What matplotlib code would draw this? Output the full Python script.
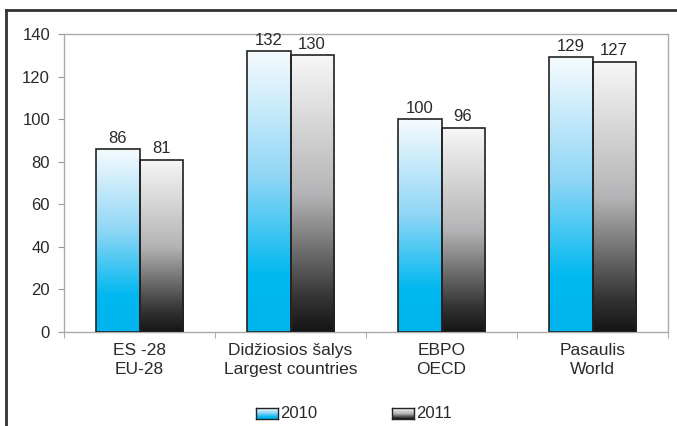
import numpy as np
import matplotlib.pyplot as plt
from matplotlib.colors import LinearSegmentedColormap
from matplotlib.patches import Rectangle
from matplotlib.lines import Line2D

plt.rcParams['font.family'] = ['Liberation Sans', 'DejaVu Sans']

categories = ['ES -28\nEU-28', 'Didžiosios šalys\nLargest countries', 'EBPO\nOECD', 'Pasaulis\nWorld']
series_names = ['2010', '2011']
values_2010 = [86, 132, 100, 129]
values_2011 = [81, 130, 96, 127]

cmap_2010 = LinearSegmentedColormap.from_list(
    'c2010', [(0.0, '#00b4ee'), (0.2, '#00b8f0'), (0.55, '#8fd6f6'), (1.0, '#f6fbfe')])
cmap_2011 = LinearSegmentedColormap.from_list(
    'c2011', [(0.0, '#151515'), (0.12, '#333333'), (0.5, '#b5b5b7'), (1.0, '#f7f7f7')])

txt = '#2a2a2a'

fig = plt.figure(figsize=(6.77, 4.26), dpi=100)
ax = fig.add_axes([64 / 677, 94 / 426, 604 / 677, 298 / 426])

grad = np.linspace(0, 1, 256).reshape(-1, 1)
x = np.arange(len(categories))
w = 0.285


def grad_bar(ax, x0, h, cmap):
    rect = Rectangle((x0, 0), w, h, facecolor='none', edgecolor='#222222', lw=1.2, zorder=3)
    ax.add_patch(rect)
    im = ax.imshow(grad, cmap=cmap, origin='lower', aspect='auto',
                   extent=(x0, x0 + w, 0, h), zorder=2)
    im.set_clip_path(rect)


for i in range(len(categories)):
    grad_bar(ax, x[i] - w, values_2010[i], cmap_2010)
    grad_bar(ax, x[i], values_2011[i], cmap_2011)
    ax.text(x[i] - w / 2, values_2010[i] + 1.5, str(values_2010[i]), ha='center', va='bottom', fontsize=12, color=txt)
    ax.text(x[i] + w / 2, values_2011[i] + 1.5, str(values_2011[i]), ha='center', va='bottom', fontsize=12, color=txt)

ax.set_xlim(-0.5, len(categories) - 0.5)
ax.set_ylim(0, 140)
ax.set_yticks(range(0, 141, 20))
ax.set_xticks(x)
ax.set_xticklabels(categories, fontsize=12.5, color=txt, linespacing=1.3)
ax.set_xticks(np.arange(-0.5, len(categories)), minor=True)
ax.tick_params(axis='x', which='major', length=0, pad=8)
ax.tick_params(axis='x', which='minor', length=4, color='#999999', direction='out')
ax.tick_params(axis='y', length=4, color='#999999', labelsize=12, labelcolor=txt, pad=6)
for s in ax.spines.values():
    s.set_color('#aaaaaa')
    s.set_linewidth(1)

# legend
for j, (name, cmap) in enumerate(zip(series_names, [cmap_2010, cmap_2011])):
    lx = 256 + j * 136
    lax = fig.add_axes([lx / 677, (426 - 419) / 426, 22 / 677, 11 / 426])
    lax.imshow(grad, cmap=cmap, origin='lower', aspect='auto')
    lax.set_xticks([])
    lax.set_yticks([])
    for s in lax.spines.values():
        s.set_color('#222222')
        s.set_linewidth(1)
    fig.text((lx + 24) / 677, (426 - 413) / 426, name, ha='left', va='center', fontsize=12, color=txt)

# outer frame (left and top)
fig.add_artist(Line2D([6 / 677, 6 / 677], [0, 1 - 10 / 426], color='#333333', lw=2))
fig.add_artist(Line2D([6 / 677, 1], [1 - 10 / 426, 1 - 10 / 426], color='#333333', lw=2))

fig.savefig('out.png', dpi=100)
